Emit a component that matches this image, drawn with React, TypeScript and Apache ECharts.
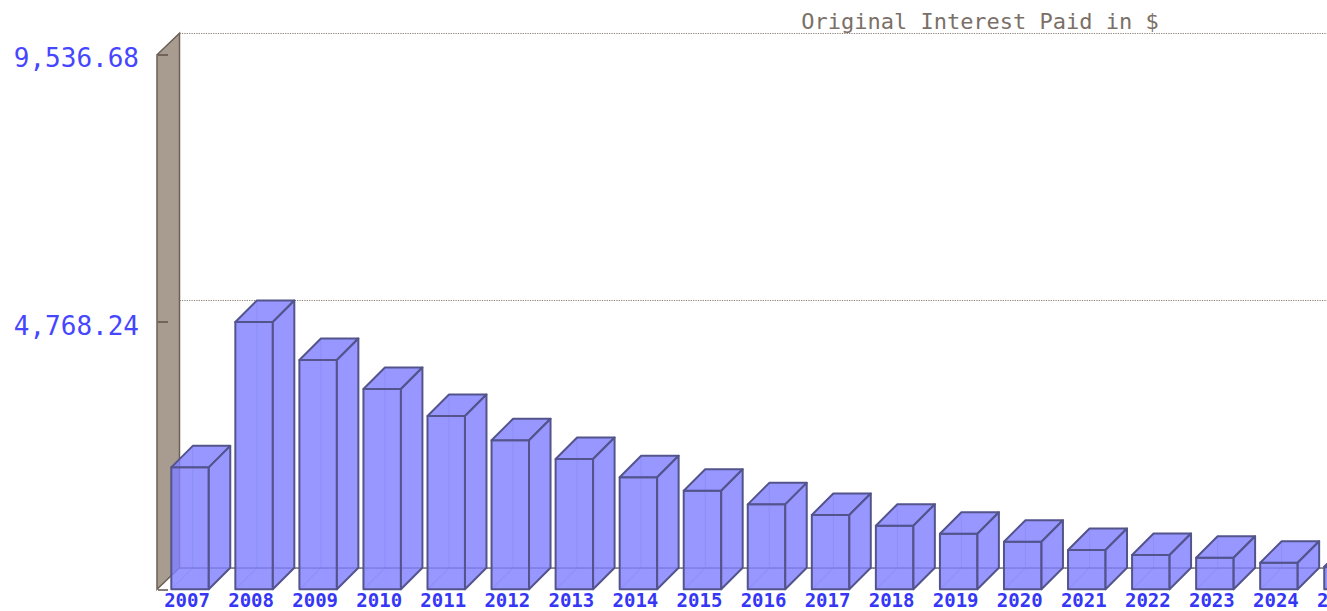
import React, { useEffect, useRef } from "react";
import * as echarts from "echarts";

const years = [
  "2007", "2008", "2009", "2010", "2011", "2012", "2013", "2014", "2015", "2016",
  "2017", "2018", "2019", "2020", "2021", "2022", "2023", "2024", "2025",
];
const interestPaid = [
  2176, 4768.24, 4091, 3573, 3092, 2658, 2325, 1998, 1759, 1516,
  1326, 1135, 992, 849, 701, 612, 564, 475, 403,
];
const yMax = 9536.68;
const yTickLabels = ["", "4,768.24", "9,536.68"];
const chartTitle = "Original Interest Paid in $";

const DEPTH = 21.5;
const MONO = "'DejaVu Sans Mono', monospace";

export default function App() {
  const ref = useRef<HTMLDivElement>(null);

  useEffect(() => {
    if (!ref.current) return;
    const chart = echarts.init(ref.current, undefined, { renderer: "svg" });

    const edge = "#54548c";
    const faceFill = "rgba(128,128,255,0.82)";
    const yInterval = yMax / 2;

    const option: any = {
      animation: false,
      backgroundColor: "#ffffff",
      graphic: [
        {
          type: "text",
          x: 980,
          y: 21,
          style: {
            text: chartTitle,
            textAlign: "center",
            textVerticalAlign: "middle",
            fill: "#7b7068",
            font: `22px ${MONO}`,
          },
        },
      ],
      grid: [
        { left: 158, right: 25, top: 54.8, bottom: 21.7, containLabel: false },
        { left: 158 + DEPTH, right: 25 - DEPTH, top: 54.8 - DEPTH, bottom: 21.7 + DEPTH, containLabel: false },
      ],
      xAxis: [
        {
          gridIndex: 0,
          type: "category",
          data: years,
          axisLine: { show: false },
          axisTick: { show: false },
          splitLine: { show: false },
          axisLabel: {
            interval: 0,
            color: "#3636f6",
            fontFamily: MONO,
            fontSize: 19,
            lineHeight: 19,
            fontWeight: "bold",
            margin: 1,
            padding: [0, 6, 0, 0],
          },
        },
        {
          gridIndex: 1,
          type: "category",
          data: years,
          axisLine: { show: true, lineStyle: { color: "#80776f", width: 1.5 } },
          axisTick: { show: false },
          axisLabel: { show: false },
          splitLine: { show: false },
        },
      ],
      yAxis: [
        {
          gridIndex: 0,
          type: "value",
          min: 0,
          max: yMax,
          interval: yInterval,
          z: 5,
          axisLine: { show: false },
          axisTick: { show: true, inside: true, length: 10, lineStyle: { color: "#5e5248", width: 1.5 } },
          splitLine: { show: false },
          axisLabel: {
            formatter: (_v: number, idx: number) => {
              const t = yTickLabels[idx] ?? "";
              return t ? `{v|${t}}` : "";
            },
            margin: 19,
            rich: {
              v: {
                color: "#4646ff",
                fontFamily: MONO,
                fontSize: 26,
                padding: [7, 0, 0, 0],
              },
            },
          },
        },
        {
          gridIndex: 1,
          type: "value",
          min: 0,
          max: yMax,
          interval: yInterval,
          axisLine: { show: false },
          axisTick: { show: false },
          axisLabel: { show: false },
          splitLine: { show: true, lineStyle: { color: "#8a7f76", type: "dotted", width: 1.2 } },
        },
      ],
      series: [
        {
          type: "custom",
          xAxisIndex: 0,
          yAxisIndex: 0,
          z: 3,
          data: [[0, yMax]],
          renderItem: (params: any) => {
            const cs = params.coordSys;
            const xl = cs.x;
            const yt = cs.y;
            const yb = cs.y + cs.height;
            return {
              type: "polygon",
              shape: {
                points: [
                  [xl - 1, yb],
                  [xl - 1, yt],
                  [xl + DEPTH, yt - DEPTH],
                  [xl + DEPTH, yb - DEPTH],
                ],
              },
              style: { fill: "#a89b8f", stroke: "#6b5f55", lineWidth: 1.5 },
            };
          },
        },
        {
          type: "custom",
          xAxisIndex: 0,
          yAxisIndex: 0,
          z: 4,
          data: years.map((y, i) => [i, interestPaid[i]]),
          encode: { x: 0, y: 1 },
          renderItem: (params: any, api: any) => {
            const i = api.value(0);
            const v = api.value(1);
            const p = api.coord([i, v]);
            const b = api.coord([i, 0]);
            const w = api.size([1, 0])[0] * 0.585;
            const x0 = p[0] - w / 2;
            const x1 = p[0] + w / 2;
            const yt = p[1];
            const yb = b[1];
            const hidden = { stroke: "rgba(87,87,144,0.28)", fill: "none", lineWidth: 1.2 };
            const face = { fill: faceFill, stroke: edge, lineWidth: 2, lineJoin: "round" };
            return {
              type: "group",
              children: [
                {
                  type: "polyline",
                  shape: { points: [[x0 + DEPTH, yt - DEPTH], [x0 + DEPTH, yb - DEPTH], [x1 + DEPTH, yb - DEPTH]] },
                  style: hidden,
                },
                {
                  type: "line",
                  shape: { x1: x0, y1: yb, x2: x0 + DEPTH, y2: yb - DEPTH },
                  style: hidden,
                },
                {
                  type: "rect",
                  shape: { x: x0, y: yt, width: w, height: yb - yt },
                  style: face,
                },
                {
                  type: "polygon",
                  shape: { points: [[x0, yt], [x1, yt], [x1 + DEPTH, yt - DEPTH], [x0 + DEPTH, yt - DEPTH]] },
                  style: face,
                },
                {
                  type: "polygon",
                  shape: { points: [[x1, yt], [x1 + DEPTH, yt - DEPTH], [x1 + DEPTH, yb - DEPTH], [x1, yb]] },
                  style: face,
                },
              ],
            };
          },
        },
      ],
    };

    chart.setOption(option);
    return () => chart.dispose();
  }, []);

  return (
    <div
      style={{ position: "absolute", left: 0, top: 0, width: 1327, height: 611, overflow: "hidden", background: "#fff" }}
    >
      <div ref={ref} style={{ width: 1400, height: 611 }} />
    </div>
  );
}
